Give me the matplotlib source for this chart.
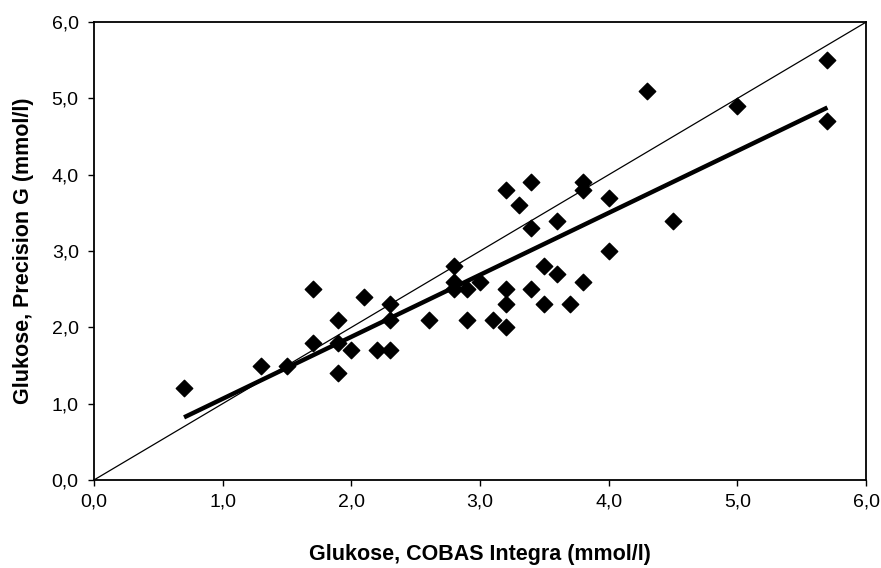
import numpy as np
import matplotlib.pyplot as plt
from matplotlib.ticker import FuncFormatter

# Glukose-Werte (mmol/l)
cobas = [0.7, 1.3, 1.5, 1.7, 1.7, 1.9, 1.9, 1.9, 2.0, 2.1, 2.2, 2.3, 2.3, 2.3,
         2.6, 2.8, 2.8, 2.8, 2.9, 2.9, 3.0, 3.1, 3.2, 3.2, 3.2, 3.2, 3.3, 3.4,
         3.4, 3.4, 3.5, 3.5, 3.6, 3.6, 3.7, 3.8, 3.8, 3.8, 4.0, 4.0, 4.3, 4.5,
         5.0, 5.7, 5.7]
precision = [1.2, 1.5, 1.5, 2.5, 1.8, 2.1, 1.8, 1.4, 1.7, 2.4, 1.7, 2.3, 2.1, 1.7,
             2.1, 2.8, 2.6, 2.5, 2.5, 2.1, 2.6, 2.1, 3.8, 2.5, 2.3, 2.0, 3.6, 3.9,
             3.3, 2.5, 2.8, 2.3, 3.4, 2.7, 2.3, 3.9, 3.8, 2.6, 3.7, 3.0, 5.1, 3.4,
             4.9, 5.5, 4.7]
ticks = [0, 1, 2, 3, 4, 5, 6]

plt.rcParams['font.family'] = ['Liberation Sans', 'DejaVu Sans']

fig = plt.figure(figsize=(8.81, 5.68), dpi=100)
ax = fig.add_axes([0.1067, 0.155, 0.8763, 0.806])

x = np.array(cobas)
y = np.array(precision)

# Winkelhalbierende
ax.plot([0, 6], [0, 6], color='black', lw=0.9)
# Regressionsgerade
m, b = np.polyfit(x, y, 1)
xf = np.array([x.min(), x.max()])
ax.plot(xf, m * xf + b, color='black', lw=3.2, solid_capstyle='butt')
ax.scatter(x, y, marker='D', s=70, color='black', zorder=3)

ax.set_xlim(0, 6)
ax.set_ylim(0, 6)
ax.set_xticks(ticks)
ax.set_yticks(ticks)
fmt = FuncFormatter(lambda v, p: f"{v:.1f}".replace('.', ','))
ax.xaxis.set_major_formatter(fmt)
ax.yaxis.set_major_formatter(fmt)
ax.tick_params(direction='out', length=4, width=1, labelsize=14)
ax.tick_params(axis='x', pad=6)
ax.tick_params(axis='y', pad=7)
for s in ax.spines.values():
    s.set_linewidth(1.3)

ax.set_xlabel('Glukose, COBAS Integra (mmol/l)', fontsize=15.5, fontweight='bold', labelpad=24)
ax.set_ylabel('Glukose, Precision G (mmol/l)', fontsize=15.5, fontweight='bold', labelpad=13)

fig.savefig('out.png', dpi=100)
